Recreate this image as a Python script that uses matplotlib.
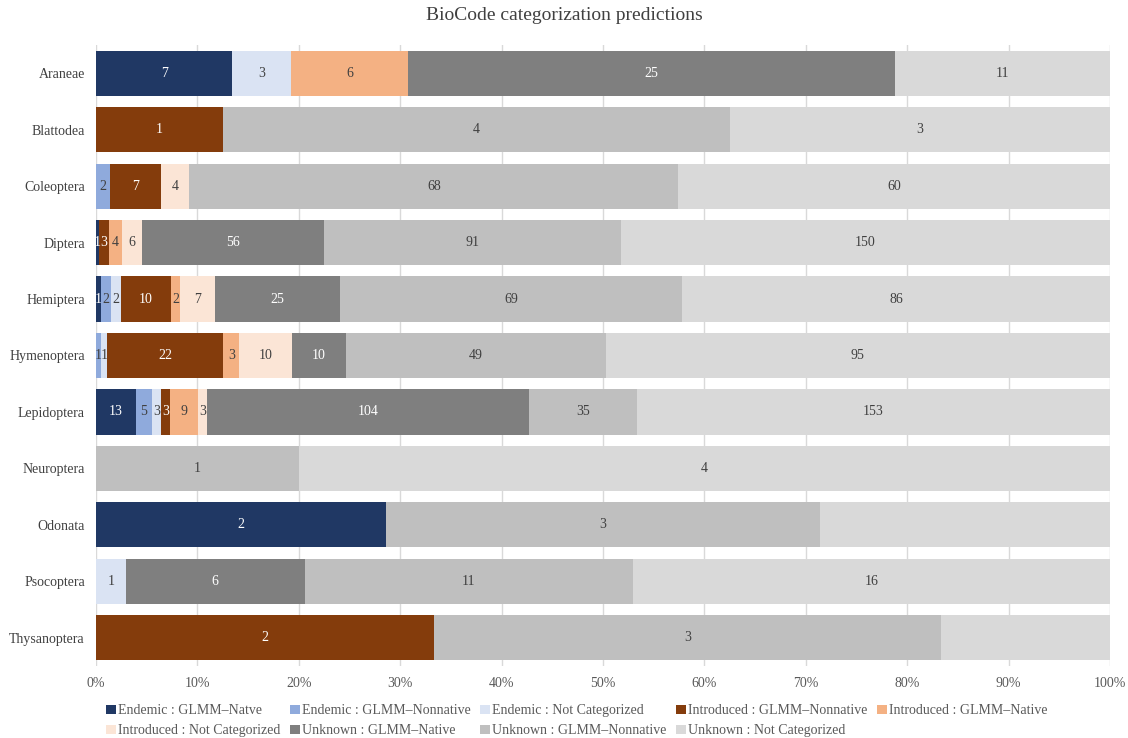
import matplotlib.pyplot as plt
import numpy as np

plt.rcParams['font.family'] = ['Liberation Serif', 'DejaVu Serif']

# Orders (top to bottom)
orders = ['Araneae', 'Blattodea', 'Coleoptera', 'Diptera', 'Hemiptera', 'Hymenoptera',
          'Lepidoptera', 'Neuroptera', 'Odonata', 'Psocoptera', 'Thysanoptera']

series = ['Endemic : GLMM\u2013Natve', 'Endemic : GLMM\u2013Nonnative', 'Endemic : Not Categorized',
          'Introduced : GLMM\u2013Nonnative', 'Introduced : GLMM\u2013Native',
          'Introduced : Not Categorized', 'Unknown : GLMM\u2013Native',
          'Unknown : GLMM\u2013Nonnative', 'Unknown : Not Categorized']

# counts per series, one value per order
endemic_native = [7, 0, 0, 1, 1, 0, 13, 0, 2, 0, 0]
endemic_nonnative = [0, 0, 2, 0, 2, 1, 5, 0, 0, 0, 0]
endemic_nc = [3, 0, 0, 0, 2, 1, 3, 0, 0, 1, 0]
introduced_nonnative = [0, 1, 7, 3, 10, 22, 3, 0, 0, 0, 2]
introduced_native = [6, 0, 0, 4, 2, 3, 9, 0, 0, 0, 0]
introduced_nc = [0, 0, 4, 6, 7, 10, 3, 0, 0, 0, 0]
unknown_native = [25, 0, 0, 56, 25, 10, 104, 0, 0, 6, 0]
unknown_nonnative = [0, 4, 68, 91, 69, 49, 35, 1, 3, 11, 3]
unknown_nc = [11, 3, 60, 150, 86, 95, 153, 4, 2, 16, 1]

# labels not shown in the original
hidden = {('Odonata', 8), ('Thysanoptera', 8)}

colors = ['#203864', '#8FAADC', '#DAE3F3', '#843C0C', '#F4B183',
          '#FBE5D6', '#7F7F7F', '#BFBFBF', '#D9D9D9']
text_colors = ['white', '#404040', '#404040', 'white', '#404040',
               '#404040', 'white', '#404040', '#404040']

data = np.array([endemic_native, endemic_nonnative, endemic_nc, introduced_nonnative,
                 introduced_native, introduced_nc, unknown_native, unknown_nonnative,
                 unknown_nc], dtype=float)
totals = data.sum(axis=0)
share = data / totals

fig = plt.figure(figsize=(11.28, 7.38), dpi=100)
ax = fig.add_axes([0.0851, 0.0976, 0.8989, 0.8414])

y = np.arange(len(orders))
left = np.zeros(len(orders))
for i, name in enumerate(series):
    ax.barh(y, share[i], left=left, height=0.8, color=colors[i], label=name, zorder=2)
    for j in range(len(orders)):
        if data[i, j] > 0 and (orders[j], i) not in hidden:
            ax.text(left[j] + share[i, j] / 2, y[j], str(int(data[i, j])),
                    ha='center', va='center', fontsize=10, color=text_colors[i], zorder=3)
    left += share[i]

ax.set_ylim(len(orders) - 0.5, -0.5)
ax.set_xlim(0, 1)
ax.set_yticks(y)
ax.set_yticklabels(orders, fontsize=10, color='#404040')
ax.set_xticks(np.linspace(0, 1, 11))
ax.set_xticklabels([f'{int(v)}%' for v in np.linspace(0, 100, 11)], fontsize=10, color='#595959')
ax.tick_params(length=0, pad=8)
ax.xaxis.grid(True, color='#D9D9D9', linewidth=1, zorder=0)
for s in ax.spines.values():
    s.set_visible(False)

fig.suptitle('BioCode categorization predictions', fontsize=14, color='#404040', y=0.99)

# legend filled row by row, 5 columns
handles, labels = ax.get_legend_handles_labels()
order = [0, 5, 1, 6, 2, 7, 3, 8, 4]
fig.legend([handles[k] for k in order], [labels[k] for k in order],
           loc='lower left', bbox_to_anchor=(0.083, -0.016), ncol=5, frameon=False,
           fontsize=10, handlelength=0.7, handleheight=0.7, handletextpad=0.15,
           columnspacing=0.7, labelspacing=0.5, labelcolor='#595959')

fig.savefig('out.png', dpi=100)
